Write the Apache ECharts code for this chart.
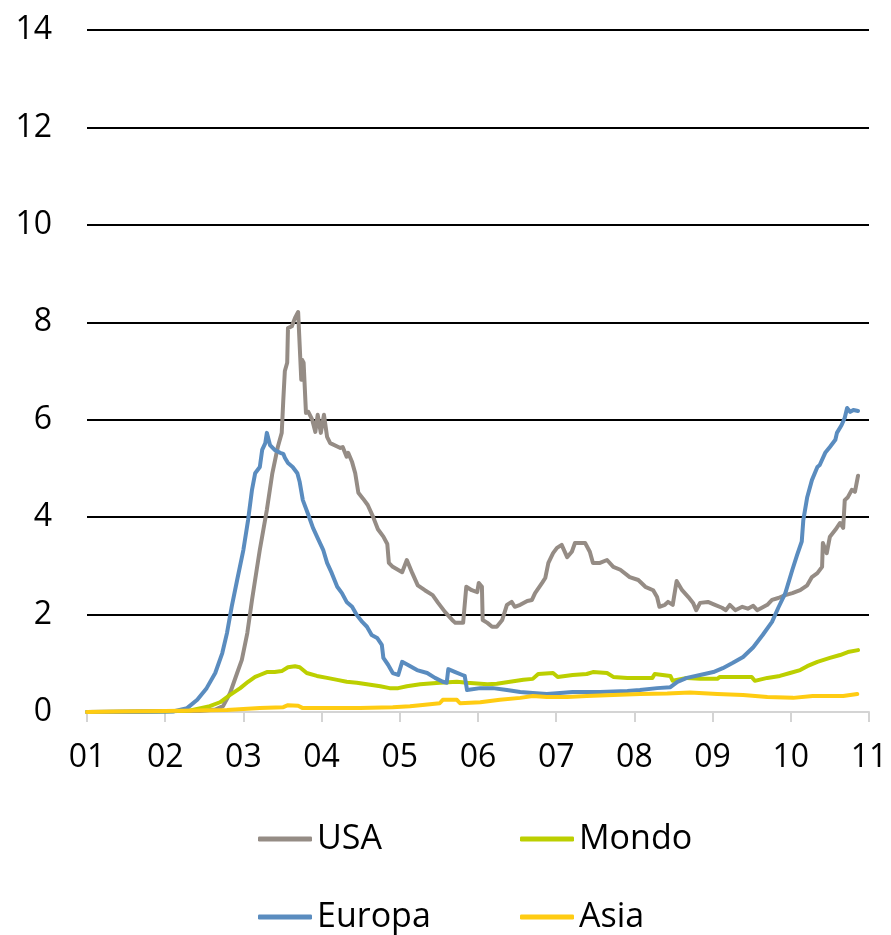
<!DOCTYPE html>
<html>
<head>
<meta charset="utf-8">
<script src="https://cdn.jsdelivr.net/npm/echarts@6/dist/echarts.min.js"></script>
<style>
html,body{margin:0;padding:0;background:#fff;}
#chart{width:891px;height:935px;}
</style>
</head>
<body>
<div id="chart"></div>
<script>
// Tick labels
const xTickLabels = ['01','02','03','04','05','06','07','08','09','10','11'];
const yTicks = [0,2,4,6,8,10,12,14];
const seriesNames = ['USA','Mondo','Europa','Asia'];

// USA: [decimal year, value]
const usa = [
[2001.00,0.00],[2001.50,0.01],[2002.00,0.02],[2002.44,0.02],[2002.64,0.05],[2002.74,0.12],[2002.83,0.39],
[2002.92,0.80],[2002.98,1.07],[2003.05,1.62],[2003.11,2.30],[2003.17,2.92],[2003.21,3.33],[2003.30,4.15],
[2003.37,4.90],[2003.44,5.44],[2003.49,5.73],[2003.51,6.40],[2003.53,7.00],[2003.56,7.17],[2003.57,7.88],
[2003.62,7.92],[2003.66,8.09],[2003.70,8.21],[2003.72,8.20],[2003.74,6.82],[2003.75,7.23],[2003.77,7.17],
[2003.80,6.14],[2003.83,6.16],[2003.88,6.00],[2003.92,5.75],[2003.95,6.10],[2003.99,5.73],[2004.03,6.10],
[2004.07,5.65],[2004.11,5.52],[2004.24,5.42],[2004.27,5.44],[2004.32,5.24],[2004.34,5.32],[2004.39,5.13],
[2004.43,4.90],[2004.47,4.50],[2004.53,4.38],[2004.59,4.25],[2004.66,4.00],[2004.72,3.75],[2004.79,3.60],
[2004.84,3.45],[2004.86,3.06],[2004.91,2.98],[2005.03,2.87],[2005.09,3.12],[2005.16,2.85],[2005.23,2.60],
[2005.32,2.50],[2005.42,2.40],[2005.49,2.24],[2005.58,2.05],[2005.67,1.89],[2005.71,1.83],[2005.81,1.83],
[2005.85,2.57],[2005.92,2.50],[2005.99,2.46],[2006.01,2.65],[2006.05,2.57],[2006.06,1.89],[2006.12,1.83],
[2006.18,1.75],[2006.24,1.75],[2006.31,1.89],[2006.37,2.20],[2006.43,2.26],[2006.47,2.16],[2006.54,2.20],
[2006.63,2.28],[2006.69,2.30],[2006.73,2.44],[2006.82,2.65],[2006.86,2.75],[2006.90,3.06],[2006.96,3.26],
[2007.01,3.37],[2007.07,3.43],[2007.14,3.18],[2007.20,3.29],[2007.24,3.47],[2007.37,3.47],[2007.43,3.29],
[2007.47,3.06],[2007.56,3.06],[2007.65,3.12],[2007.73,2.98],[2007.82,2.92],[2007.94,2.77],[2008.05,2.71],
[2008.14,2.57],[2008.24,2.50],[2008.29,2.36],[2008.32,2.16],[2008.39,2.20],[2008.43,2.26],[2008.49,2.20],
[2008.54,2.69],[2008.61,2.50],[2008.69,2.36],[2008.75,2.24],[2008.79,2.09],[2008.84,2.24],[2008.94,2.26],
[2009.03,2.20],[2009.12,2.14],[2009.17,2.09],[2009.22,2.20],[2009.29,2.09],[2009.38,2.16],[2009.45,2.12],
[2009.52,2.18],[2009.57,2.09],[2009.63,2.14],[2009.70,2.20],[2009.76,2.30],[2009.84,2.34],[2009.93,2.40],
[2010.02,2.44],[2010.12,2.50],[2010.21,2.60],[2010.27,2.77],[2010.34,2.85],[2010.40,2.98],[2010.41,3.47],
[2010.46,3.26],[2010.50,3.60],[2010.57,3.74],[2010.63,3.88],[2010.67,3.78],[2010.69,4.35],[2010.73,4.41],
[2010.78,4.56],[2010.82,4.52],[2010.86,4.85]
];

// Europa
const europa = [
[2001.00,0.00],[2001.50,0.00],[2002.10,0.01],[2002.28,0.08],[2002.41,0.25],[2002.53,0.49],[2002.64,0.80],
[2002.73,1.21],[2002.79,1.62],[2002.85,2.16],[2002.92,2.71],[2003.00,3.33],[2003.06,3.94],[2003.11,4.56],
[2003.15,4.90],[2003.21,5.03],[2003.24,5.38],[2003.28,5.52],[2003.30,5.73],[2003.34,5.48],[2003.40,5.38],
[2003.47,5.32],[2003.51,5.30],[2003.53,5.22],[2003.57,5.11],[2003.63,5.03],[2003.69,4.90],[2003.72,4.72],
[2003.76,4.35],[2003.83,4.05],[2003.89,3.78],[2003.95,3.57],[2004.02,3.33],[2004.07,3.06],[2004.13,2.85],
[2004.20,2.57],[2004.26,2.44],[2004.32,2.26],[2004.39,2.16],[2004.45,1.99],[2004.52,1.85],[2004.58,1.75],
[2004.64,1.58],[2004.71,1.52],[2004.77,1.38],[2004.79,1.11],[2004.85,0.97],[2004.91,0.80],[2004.98,0.76],
[2005.03,1.03],[2005.10,0.97],[2005.22,0.86],[2005.35,0.80],[2005.45,0.70],[2005.55,0.62],[2005.60,0.60],
[2005.62,0.88],[2005.71,0.82],[2005.80,0.76],[2005.83,0.74],[2005.86,0.45],[2006.03,0.49],[2006.19,0.49],
[2006.37,0.45],[2006.54,0.41],[2006.70,0.39],[2006.88,0.37],[2007.05,0.39],[2007.21,0.41],[2007.56,0.41],
[2007.91,0.43],[2008.07,0.45],[2008.29,0.49],[2008.46,0.51],[2008.55,0.62],[2008.67,0.70],[2008.84,0.76],
[2009.01,0.82],[2009.13,0.90],[2009.26,1.01],[2009.39,1.13],[2009.52,1.33],[2009.64,1.58],[2009.76,1.85],
[2009.84,2.14],[2009.93,2.44],[2010.02,2.92],[2010.08,3.22],[2010.14,3.50],[2010.16,3.94],[2010.21,4.41],
[2010.27,4.76],[2010.34,5.03],[2010.37,5.07],[2010.44,5.32],[2010.50,5.44],[2010.57,5.59],[2010.59,5.73],
[2010.65,5.89],[2010.69,6.04],[2010.72,6.24],[2010.76,6.16],[2010.80,6.20],[2010.86,6.18]
];

// Mondo
const mondo = [
[2001.00,0.00],[2002.00,0.01],[2002.32,0.03],[2002.57,0.12],[2002.70,0.20],[2002.83,0.35],[2002.96,0.49],
[2003.06,0.62],[2003.15,0.72],[2003.21,0.76],[2003.30,0.82],[2003.40,0.82],[2003.49,0.84],[2003.57,0.92],
[2003.66,0.94],[2003.72,0.92],[2003.81,0.80],[2003.94,0.74],[2004.07,0.70],[2004.20,0.66],[2004.32,0.62],
[2004.45,0.60],[2004.58,0.57],[2004.75,0.53],[2004.87,0.49],[2004.98,0.49],[2005.09,0.53],[2005.26,0.57],
[2005.51,0.60],[2005.73,0.62],[2005.86,0.60],[2006.12,0.57],[2006.24,0.58],[2006.41,0.62],[2006.58,0.66],
[2006.70,0.68],[2006.77,0.78],[2006.96,0.80],[2007.02,0.72],[2007.21,0.76],[2007.39,0.78],[2007.47,0.82],
[2007.65,0.80],[2007.73,0.72],[2007.91,0.70],[2008.23,0.70],[2008.26,0.78],[2008.46,0.74],[2008.49,0.64],
[2008.67,0.70],[2008.84,0.68],[2009.06,0.68],[2009.09,0.72],[2009.50,0.72],[2009.54,0.64],[2009.70,0.70],
[2009.86,0.74],[2009.99,0.80],[2010.12,0.86],[2010.21,0.94],[2010.34,1.03],[2010.50,1.11],[2010.63,1.17],
[2010.73,1.23],[2010.86,1.27]
];

// Asia
const asia = [
[2001.00,0.00],[2002.00,0.02],[2002.79,0.04],[2003.21,0.08],[2003.51,0.10],[2003.57,0.14],[2003.70,0.13],
[2003.76,0.08],[2004.07,0.08],[2004.49,0.08],[2004.91,0.10],[2005.13,0.12],[2005.26,0.14],[2005.51,0.18],
[2005.55,0.25],[2005.73,0.25],[2005.77,0.18],[2006.03,0.20],[2006.28,0.25],[2006.54,0.29],[2006.70,0.33],
[2006.88,0.31],[2007.14,0.31],[2007.39,0.33],[2007.73,0.35],[2008.07,0.37],[2008.42,0.38],[2008.71,0.40],
[2009.06,0.37],[2009.39,0.35],[2009.70,0.31],[2010.03,0.29],[2010.28,0.33],[2010.67,0.33],[2010.85,0.37]
];

const colors = {USA:'#958c85', Mondo:'#bccf00', Europa:'#5a8cbf', Asia:'#ffcc12'};
const dataMap = {USA:usa, Mondo:mondo, Europa:europa, Asia:asia};
const FONT = '"Open Sans", "Noto Sans", sans-serif';

const chart = echarts.init(document.getElementById('chart'), null, {renderer:'canvas'});

function legendItem(name, left, top){
  return {
    data:[name], left:left, top:top, orient:'horizontal', padding:0,
    icon:'roundRect', itemWidth:54, itemHeight:5, itemGap:0,
    selectedMode:false,
    textStyle:{fontFamily:FONT, fontSize:34, color:'#000', padding:[0,0,0,0]}
  };
}

const option = {
  animation:false,
  backgroundColor:'#fff',
  grid:{left:87, right:22, top:30, bottom:223, containLabel:false},
  legend:[
    legendItem('USA',258,822),
    legendItem('Mondo',520,822),
    legendItem('Europa',258,900),
    legendItem('Asia',520,900)
  ],
  xAxis:{
    type:'value', min:2001, max:2011, interval:1,
    axisLine:{show:true, lineStyle:{color:'#d4d4d4', width:2}},
    axisTick:{show:true, length:10, lineStyle:{color:'#d4d4d4', width:2}},
    splitLine:{show:false},
    axisLabel:{
      fontFamily:FONT, fontSize:32, color:'#000', margin:30,
      formatter:function(v){ return xTickLabels[Math.round(v)-2001] || ''; }
    }
  },
  yAxis:{
    type:'value', min:yTicks[0], max:yTicks[yTicks.length-1], interval:2,
    axisLine:{show:false}, axisTick:{show:false},
    splitLine:{show:true, showMinLine:false, lineStyle:{color:'#000', width:2}},
    axisLabel:{fontFamily:FONT, fontSize:32, color:'#000', margin:35}
  },
  series: seriesNames.map(function(n){
    return {
      name:n, type:'line', data:dataMap[n], showSymbol:false, symbol:'none',
      lineStyle:{color:colors[n], width:4, cap:'round', join:'round'}, itemStyle:{color:colors[n]},
      z: n==='Asia'?5:3
    };
  })
};
chart.setOption(option);
</script>
</body>
</html>
